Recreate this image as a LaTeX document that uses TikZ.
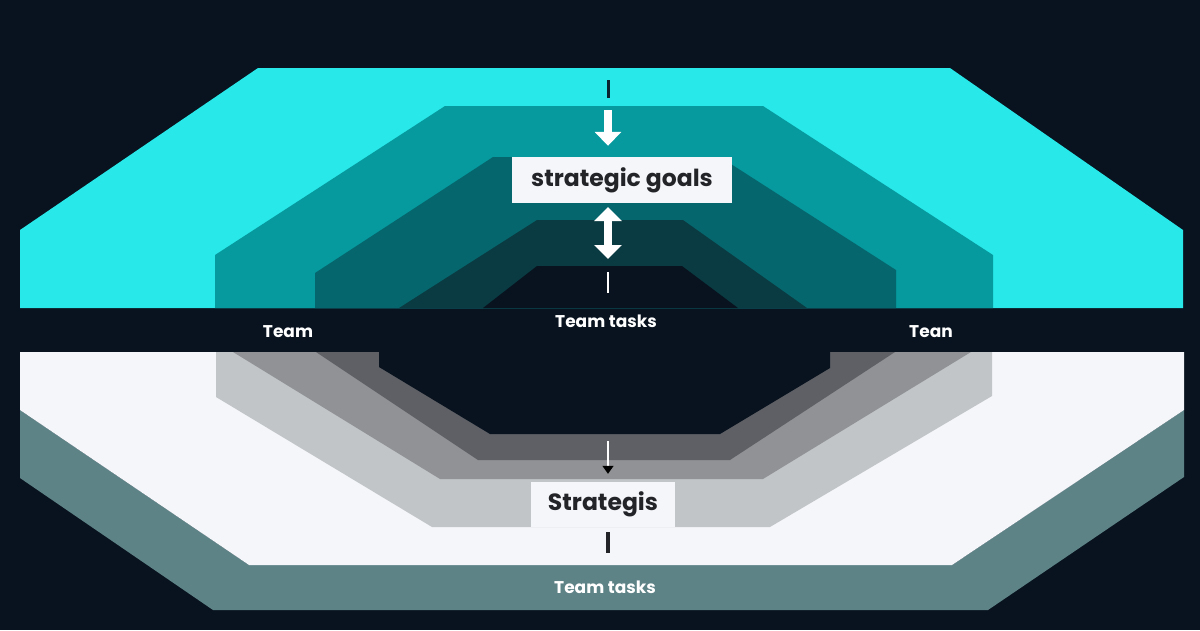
\documentclass[tikz,border=0pt]{standalone}
\usepackage{fontspec}
\setmainfont{Poppins}
\usetikzlibrary{arrows.meta}
\definecolor{bg}{HTML}{08131F}
\definecolor{cyanA}{HTML}{28E8E9}
\definecolor{tealB}{HTML}{06999E}
\definecolor{tealC}{HTML}{05676D}
\definecolor{tealD}{HTML}{0A3B42}
\definecolor{paper}{HTML}{F4F6FA}
\definecolor{tealE}{HTML}{5E8387}
\definecolor{grayA}{HTML}{C2C5C8}
\definecolor{grayB}{HTML}{909295}
\definecolor{grayC}{HTML}{5E6066}
\definecolor{ink}{HTML}{222428}
\definecolor{barnavy}{HTML}{0B2530}
\tikzset{
  boxlabel/.style={fill=paper, text=ink, inner sep=0pt, font=\bfseries\fontsize{23.5}{26}\selectfont},
  gaplabel/.style={text=white, inner sep=0pt, font=\bfseries\fontsize{17}{20}\selectfont},
  bigarrow/.style={draw=white, line width=8pt},
}
\begin{document}
\begin{tikzpicture}[x=1pt,y=-1pt]
\fill[bg] (0,0) rectangle (1200,630);
\useasboundingbox (0,0) rectangle (1200,630);
% top stacked band
\fill[cyanA] (20,308) -- (20,230) -- (258,68) -- (950,68) -- (1183,230) -- (1183,308) -- cycle;
\fill[tealB] (215,308) -- (215,255) -- (445,106) -- (763,106) -- (993,255) -- (993,308) -- cycle;
\fill[tealC] (315,308) -- (315,273) -- (493,157) -- (720,157) -- (896,270) -- (896,308) -- cycle;
\fill[tealD] (399,308) -- (537,220) -- (683,220) -- (807,308) -- cycle;
\fill[bg] (483,308) -- (537,266) -- (682,266) -- (738,308) -- cycle;
% bottom stacked band
\fill[tealE] (20,410) -- (249,565) -- (952,565) -- (1184,410) -- (1184,477) -- (988,610) -- (213,610) -- (20,478) -- cycle;
\fill[paper] (20,352) -- (1184,352) -- (1184,410) -- (952,565) -- (249,565) -- (20,410) -- cycle;
\fill[grayA] (216,352) -- (216,397) -- (432,527) -- (770,527) -- (992,396) -- (992,352) -- cycle;
\fill[grayB] (233,352) -- (440,479) -- (763,479) -- (971,352) -- cycle;
\fill[grayC] (316,352) -- (478,460) -- (730,460) -- (895,352) -- cycle;
\fill[bg] (379,352) -- (379,367) -- (490,434) -- (720,434) -- (830,368) -- (830,352) -- cycle;
% boxes
\node[boxlabel, minimum width=220pt, minimum height=46pt] (goals) at (622,180) {strategic goals};
\node[boxlabel, minimum width=144pt, minimum height=45pt] (strat) at (603,504.5) {Strategis};
% labels
\node[gaplabel] (teamL) at (288,332) {Team};
\node[gaplabel] (tasksM) at (606,321) {Team tasks};
\node[gaplabel] (teamR) at (931,332) {Tean};
\node[gaplabel] (tasksB) at (605,587) {Team tasks};
% connectors
\coordinate (t0) at (608,80);
\coordinate (t1) at (608,98);
\coordinate (d0) at (608,110);
\coordinate (u0) at (608,207);
\coordinate (u1) at (608,259);
\coordinate (b0) at (608,272);
\coordinate (b1) at (608,293);
\coordinate (s0) at (608,441);
\coordinate (s2) at (608,532);
\coordinate (s3) at (608,553);
\draw[barnavy, line width=3pt] (t0) -- (t1);
\draw[bigarrow, -{Triangle[width=26pt,length=14pt]}] (d0) -- ([yshift=11pt]goals.north -| d0);
\draw[bigarrow, {Triangle[width=27pt,length=14pt]}-{Triangle[width=27pt,length=14pt]}] (u0) -- (u1);
\draw[white, line width=2.5pt] (b0) -- (b1);
\draw[white, line width=1.3pt, -{Triangle[color=black,width=11pt,length=8pt]}] (s0) -- ([yshift=8pt]strat.north -| s0);
\draw[ink, line width=3.5pt] (s2) -- (s3);
\end{tikzpicture}
\end{document}
